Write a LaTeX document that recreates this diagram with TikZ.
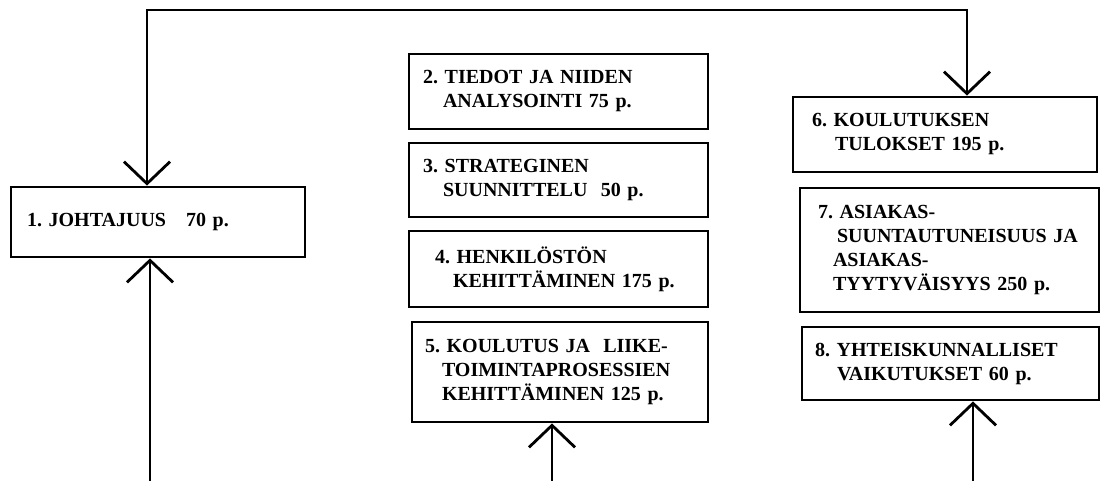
\documentclass[tikz,border=0pt]{standalone}
\usepackage{fontspec}
\setmainfont{Liberation Serif}
\usepackage{tikz}
\usetikzlibrary{arrows.meta}
\frenchspacing

\begin{document}
\begin{tikzpicture}[x=0.5pt,y=-0.5pt]
    % Styles for boxes and lines
    \tikzset{
      box/.style={rectangle, draw=black, line width=1.4pt, align=left, font=\fontsize{10}{12}\selectfont\bfseries, inner ysep=0pt},
      arrow/.style={line width=1.4pt,-{Straight Barb[length=11pt,width=23pt]}},
      biarrow/.style={line width=1.4pt,{Straight Barb[length=11pt,width=23pt]}-{Straight Barb[length=11pt,width=23pt]}}
    }
    \useasboundingbox (0,0) rectangle (1100,481);

    % Nodes with explicit coordinates
    \node[box, minimum width=147pt, minimum height=35pt, inner xsep=8pt, text width=131pt] (lead) at (158,222) {1. JOHTAJUUS\ \ \ 70 p.};
    \node[box, minimum width=149.5pt, minimum height=37.5pt, inner xsep=7pt, text width=135.5pt] (data) at (558.5,91.5) {2. TIEDOT JA NIIDEN\\\hspace*{10pt}ANALYSOINTI 75 p.};
    \node[box, minimum width=149.5pt, minimum height=37pt, inner xsep=7pt, text width=135.5pt] (strat) at (558.5,180) {3. STRATEGINEN\\\hspace*{10pt}SUUNNITTELU\ \ 50 p.};
    \node[box, minimum width=149.5pt, minimum height=38pt, inner xsep=13pt, text width=123.5pt] (staff) at (558.5,269) {4. HENKILÖSTÖN\\\hspace*{9pt}KEHITTÄMINEN 175 p.};
    \node[box, minimum width=148pt, minimum height=50pt, inner xsep=6.5pt, text width=135pt] (proc) at (560,372) {5. KOULUTUS JA\ \ LIIKE-\\\hspace*{8.5pt}TOIMINTAPROSESSIEN\\\hspace*{8.5pt}KEHITTÄMINEN 125 p.};
    \node[box, minimum width=152pt, minimum height=37.5pt, inner xsep=9.5pt, text width=133pt] (result) at (945,134.5) {6. KOULUTUKSEN\\\hspace*{11.5pt}TULOKSET 195 p.};
    \node[box, minimum width=149.5pt, minimum height=62pt, inner xsep=9pt, text width=131.5pt] (client) at (949.5,250) {7. ASIAKAS-\\\hspace*{9.5pt}SUUNTAUTUNEISUUS~JA\\\hspace*{7.5pt}ASIAKAS-\\\hspace*{7.5pt}TYYTYVÄISYYS 250 p.};
    \node[box, minimum width=148.5pt, minimum height=36.5pt, inner xsep=6.5pt, text width=135.5pt] (society) at (950.5,363.5) {8. YHTEISKUNNALLISET\\\hspace*{11pt}VAIKUTUKSET 60 p.};

    % Free ends of the lines
    \coordinate (loopL) at (147,10);
    \coordinate (loopR) at (967,10);
    \coordinate (in1) at (150,481);
    \coordinate (in5) at (552,481);
    \coordinate (in8) at (973,481);

    % Arrows
    \draw[biarrow] (lead.north -| loopL) -- (loopL) -- (loopR) -- (result.north -| loopR);
    \draw[arrow] (in1) -- (in1 |- lead.south);
    \draw[arrow] (in5) -- (in5 |- proc.south);
    \draw[arrow] (in8) -- (in8 |- society.south);

\end{tikzpicture}
\end{document}
